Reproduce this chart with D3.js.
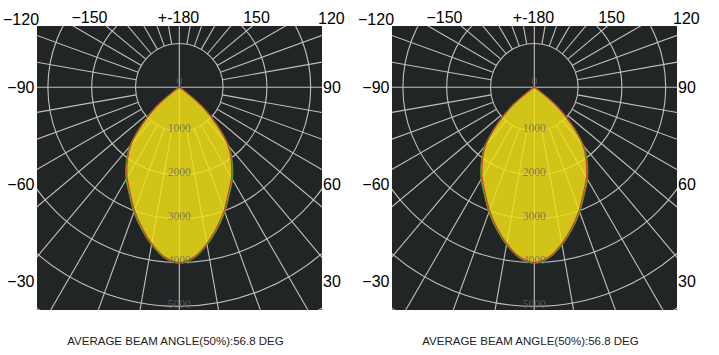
<!DOCTYPE html>
<html><head><meta charset="utf-8">
<script src="https://cdn.jsdelivr.net/npm/d3@7"></script>
<style>html,body{margin:0;padding:0;background:#fff;} svg{display:block}</style>
</head><body>
<svg id="c" width="719" height="355"></svg>
<script>
// ---- data ----
const angles   = [0, 5, 10, 15, 20, 25, 30, 35, 40, 45, 50, 55, 60, 65, 70, 75, 80, 85, 90];
const c0_180   = [4000, 3885, 3622, 3310, 2990, 2657, 2380, 2068, 1724, 1200, 680, 140, 20, 0, 0, 0, 0, 0, 0];
const c90_270  = [4015, 3905, 3650, 3345, 3030, 2700, 2425, 2112, 1762, 1232, 705, 152, 24, 0, 0, 0, 0, 0, 0];
const ringValues = [1000, 2000, 3000, 4000, 5000, 6000, 7000];
const ringLabels = ["0", "1000", "2000", "3000", "4000", "5000"];
const topLabels  = ["\u2212120", "\u2212150", "+-180", "150", "120"];
const leftLabels = ["\u221290", "\u221260", "\u221230"];
const rightLabels = ["90", "60", "30"];
const caption = "AVERAGE BEAM ANGLE(50%):56.8 DEG";
const panels = ["left", "right"];

// ---- layout ----
const svg = d3.select("#c");
const panelDX = 355;
const box = {x: 37, y: 26, w: 285, h: 284};
const cx0 = 179.3, cy = 87.3;
const r = d3.scaleLinear().domain([0, 1000]).range([0, 43.8]);
const sideY = d3.scaleLinear().domain([0, 2]).range([93, 287.3]);
const topX = [3, 89.5, 178.5, 256.5, 318];
const topAnchor = ["start", "middle", "middle", "middle", "start"];
const topBase = [24.8, 22.7, 22.7, 22.7, 24.3];
const gridAngles = d3.range(0, 360, 10);

panels.forEach((p, i) => {
  const ox = i * panelDX;
  const g = svg.append("g").attr("transform", `translate(${ox},0)`);
  const clipId = "clip" + i;
  g.append("clipPath").attr("id", clipId).append("rect")
    .attr("x", box.x).attr("y", box.y).attr("width", box.w).attr("height", box.h);
  g.append("rect").attr("x", box.x).attr("y", box.y).attr("width", box.w).attr("height", box.h)
    .attr("fill", "#222525");
  const pg = g.append("g").attr("clip-path", `url(#${clipId})`);
  const c = pg.append("g").attr("transform", `translate(${cx0},${cy})`);
  const gridColor = "#c4c0bb";
  c.selectAll("circle.ring").data(ringValues).join("circle")
    .attr("r", d => r(d)).attr("fill", "none").attr("stroke", gridColor).attr("stroke-width", 1.1);
  c.selectAll("line.rad").data(gridAngles).join("line")
    .attr("x1", d => (d % 90 === 0 ? 0 : r(1000)) * Math.sin(d * Math.PI / 180))
    .attr("y1", d => (d % 90 === 0 ? 0 : r(1000)) * Math.cos(d * Math.PI / 180))
    .attr("x2", d => 500 * Math.sin(d * Math.PI / 180))
    .attr("y2", d => 500 * Math.cos(d * Math.PI / 180))
    .attr("stroke", gridColor).attr("stroke-width", 1.1);

  function pts(vals) {
    const right = angles.map((a, k) => [a, vals[k]]);
    const left = angles.slice(1).map((a, k) => [-a, vals[k + 1]]).reverse();
    return left.concat(right);
  }
  const radial = d3.lineRadial()
    .angle(d => Math.PI - d[0] * Math.PI / 180)
    .radius(d => r(d[1]))
    .curve(d3.curveCatmullRomClosed.alpha(0.5));
  c.append("path").attr("d", radial(pts(c90_270)))
    .attr("fill", "rgb(241,223,23)").attr("fill-opacity", 0.85).attr("stroke", "none");
  c.append("path").attr("d", radial(pts(c90_270)))
    .attr("fill", "none").attr("stroke", "#4f9a36").attr("stroke-width", 1.2);
  c.append("path").attr("d", radial(pts(c0_180)))
    .attr("fill", "none").attr("stroke", "#cf3b25").attr("stroke-width", 1.1);

  c.selectAll("text.rl").data(ringLabels).join("text")
    .attr("x", 0)
    .attr("y", (d, k) => k === 0 ? -2 : r(+d) + 1.3)
    .attr("text-anchor", "middle")
    .attr("font-family", "'Liberation Serif', 'DejaVu Serif', serif")
    .attr("font-size", 11.5)
    .attr("fill", "#666").attr("fill-opacity", 0.8)
    .text(d => d);

  const ff = "'Liberation Sans', Arial, sans-serif";
  g.selectAll("text.top").data(topLabels).join("text")
    .attr("x", (d, k) => topX[k]).attr("y", (d, k) => topBase[k])
    .attr("text-anchor", (d, k) => topAnchor[k])
    .attr("font-family", ff).attr("font-size", 16).attr("fill", "#000")
    .text(d => d);
  g.selectAll("text.lft").data(leftLabels).join("text")
    .attr("x", 34.5).attr("y", (d, k) => sideY(k))
    .attr("text-anchor", "end")
    .attr("font-family", ff).attr("font-size", 16).attr("fill", "#000")
    .text(d => d);
  g.selectAll("text.rgt").data(rightLabels).join("text")
    .attr("x", 323).attr("y", (d, k) => sideY(k))
    .attr("text-anchor", "start")
    .attr("font-family", ff).attr("font-size", 16).attr("fill", "#000")
    .text(d => d);
  g.append("text").attr("x", 175.5).attr("y", 345)
    .attr("text-anchor", "middle")
    .attr("font-family", ff).attr("font-size", 11.5).attr("fill", "#222")
    .text(caption);
});
</script>
</body></html>
